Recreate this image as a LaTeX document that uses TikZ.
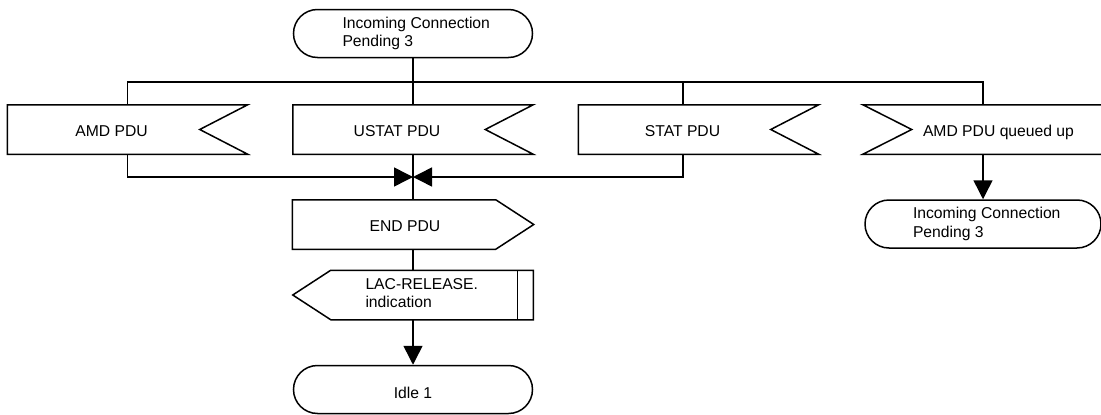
\documentclass[tikz,border=0pt]{standalone}
\usepackage{fontspec}
\setmainfont{Liberation Sans}
\usetikzlibrary{arrows.meta,shapes.misc}
\tikzset{%
  sdl/.style={rectangle,inner sep=0pt,minimum width=239pt,minimum height=48pt},
  state/.style={rounded rectangle,draw,inner sep=0pt,
    minimum width=239pt,minimum height=48pt},
  lbl/.style={inner sep=0pt},
  lbltwo/.style={lbl,align=left},
  flow/.style={-{Triangle[length=19pt,width=19pt]}},
}
% notch cut into the right side
\newcommand{\InputR}[1]{%
  \draw (#1.north west) -- (#1.north east) -- ([xshift=-48pt]#1.east)
    -- (#1.south east) -- (#1.south west) -- cycle;}
% notch cut into the left side
\newcommand{\InputL}[1]{%
  \draw (#1.north west) -- (#1.north east) -- (#1.south east)
    -- (#1.south west) -- ([xshift=49pt]#1.west) -- cycle;}
% point on the right
\newcommand{\OutputR}[1]{%
  \draw (#1.north west) -- ([xshift=-38pt]#1.north east) -- (#1.east)
    -- ([xshift=-38pt]#1.south east) -- (#1.south west) -- cycle;}
% point on the left, bar on the right
\newcommand{\OutputL}[1]{%
  \draw (#1.west) -- ([xshift=38pt]#1.north west) -- (#1.north east)
    -- (#1.south east) -- ([xshift=38pt]#1.south west) -- cycle;
  \draw ([xshift=-16pt]#1.north east) -- ([xshift=-16pt]#1.south east);}

\begin{document}
\begin{tikzpicture}[x=1pt,y=-1pt,line width=1.5pt,
    font=\fontsize{15.7}{18.7}\selectfont]
  \useasboundingbox (0,0) rectangle (1101,415);
  \coordinate (bus) at (0,82);
  \coordinate (join) at (413,177);
  % states
  \node[state] (s0) at (413,33.5) {};
  \node[state] (s1) at (413,389.5) {};
  \node[state,minimum width=236pt] (s2) at (983,224) {};
  % inputs
  \node[sdl] (i1) at (127.5,129.5) {};
  \node[sdl] (i2) at (413,129.5) {};
  \node[sdl] (i3) at (698.5,129.5) {};
  \node[sdl] (i4) at (983,129.5) {};
  \InputR{i1} \InputR{i2} \InputR{i3} \InputL{i4}
  % outputs
  \node[sdl,minimum width=240pt] (o1) at (413,224.5) {};
  \node[sdl] (o2) at (413,295) {};
  \OutputR{o1} \OutputL{o2}
  % texts
  \node[lbltwo,anchor=west] (t0) at ([xshift=49pt]s0.west) {Incoming Connection\\Pending 3};
  \node[lbl,anchor=base] (t1) at ([xshift=-16pt,yshift=-7pt]i1.center) {AMD PDU};
  \node[lbl,anchor=base] (t2) at ([xshift=-16pt,yshift=-7pt]i2.center) {USTAT PDU};
  \node[lbl,anchor=base] (t3) at ([xshift=-16pt,yshift=-7pt]i3.center) {STAT PDU};
  \node[lbl,anchor=base west] (t4) at ([xshift=59.5pt,yshift=-7pt]i4.west) {AMD PDU queued up};
  \node[lbl,anchor=base] (t5) at ([xshift=-8pt,yshift=-7pt]o1.center) {END PDU};
  \node[lbltwo,anchor=west] (t6) at ([xshift=72pt,yshift=2pt]o2.west) {LAC-RELEASE.\\indication};
  \node[lbl,anchor=base] (t7) at ([yshift=-8.5pt]s1.center) {Idle 1};
  \node[lbltwo,anchor=west] (t8) at ([xshift=48pt]s2.west) {Incoming Connection\\Pending 3};
  % connections
  \draw (s0.south) -- (i2.north);
  \draw (i1.north) |- (i4.north |- bus) -- (i4.north);
  \draw ([xshift=-15.5pt]i3.north) -- ([xshift=-15.5pt]i3.north |- bus);
  \draw[flow] (i1.south) |- (join);
  \draw[flow] ([xshift=-15.5pt]i3.south) |- (join);
  \draw (i2.south) -- (o1.north);
  \draw (o1.south) -- (o2.north);
  \draw[flow] (o2.south) -- (s1.north);
  \draw[flow] (i4.south) -- (s2.north);
\end{tikzpicture}
\end{document}
